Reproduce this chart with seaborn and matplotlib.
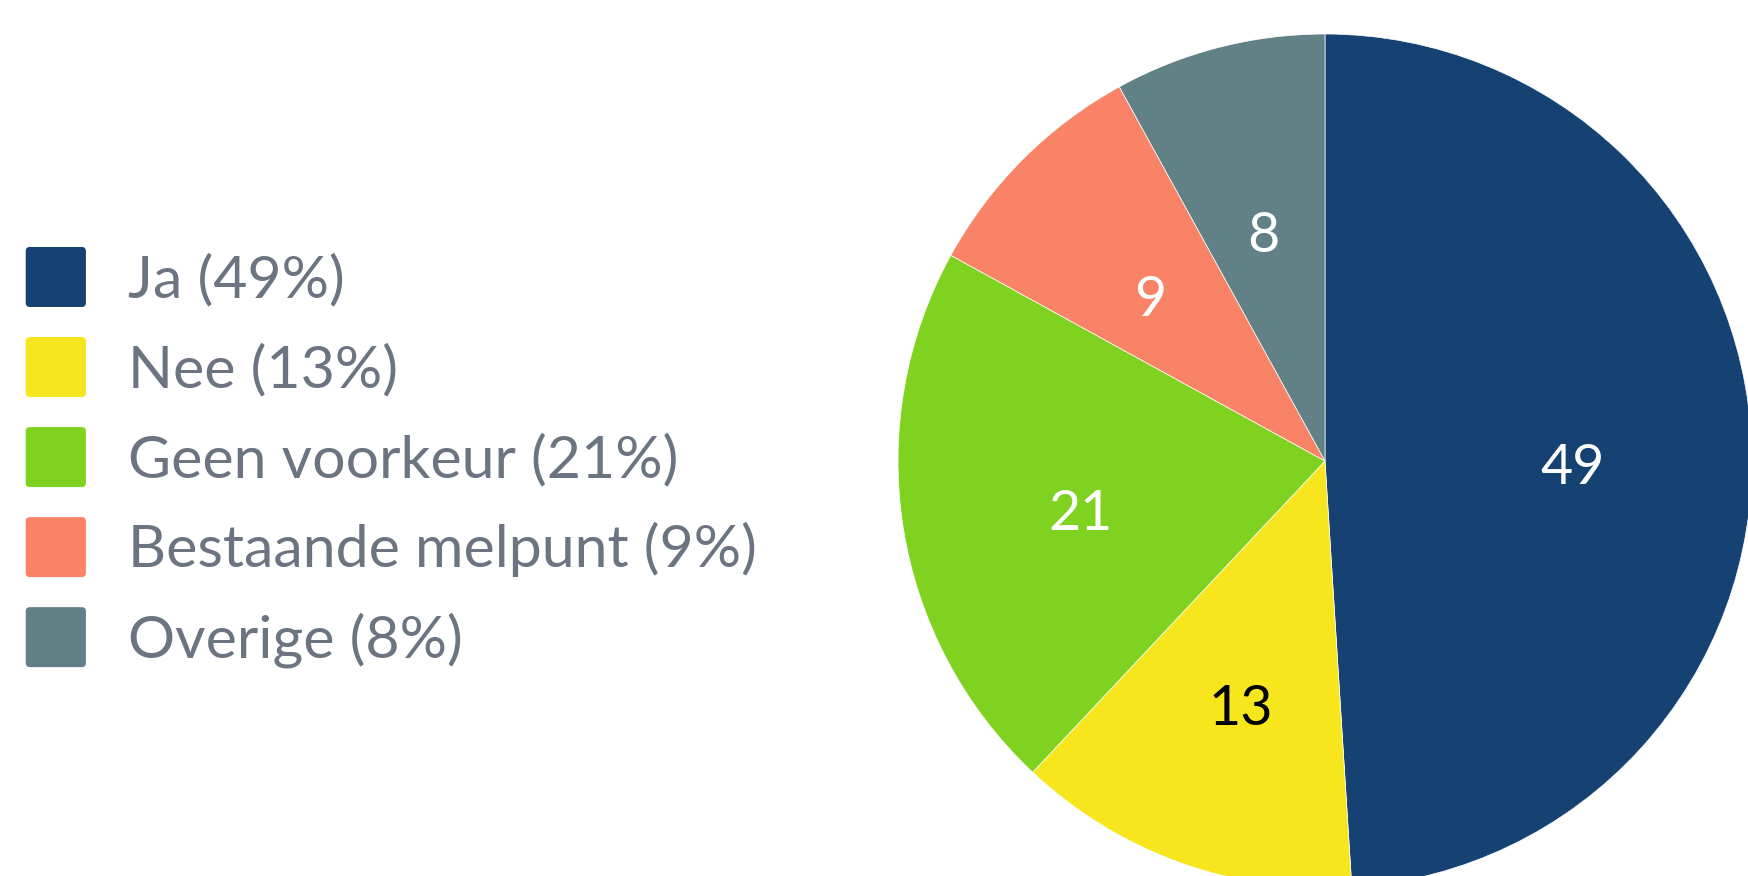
import matplotlib
matplotlib.use("Agg")
import matplotlib.pyplot as plt
import matplotlib.transforms as mtransforms
import seaborn as sns
from matplotlib.patches import FancyBboxPatch
from matplotlib.legend_handler import HandlerPatch

categories = ["Ja", "Nee", "Geen voorkeur", "Bestaande melpunt", "Overige"]
values = [49, 13, 21, 9, 8]
colors = ["#154273", "#f7e51e", "#7fd320", "#f98366", "#628186"]
label_colors = ["white", "black", "white", "white", "white"]

sns.set_theme(style="white")
plt.rcParams["font.family"] = ["Lato", "DejaVu Sans"]

W, H, DPI = 1748, 876, 100
fig = plt.figure(figsize=(W / DPI, H / DPI), dpi=DPI)

# pie placement (pixels): centre and radius
cx, cy, r = 1325, 461, 427
ax = fig.add_axes([(cx - r) / W, (H - cy - r) / H, 2 * r / W, 2 * r / H])

palette = sns.color_palette(colors)
total = sum(values)
wedges, texts = ax.pie(
    values,
    colors=palette,
    startangle=90,
    counterclock=False,
    labels=[str(v) for v in values],
    labeldistance=0.58,
    wedgeprops=dict(edgecolor="white", linewidth=0.5),
    textprops=dict(fontsize=40),
)
shift = mtransforms.ScaledTranslation(0, -15 / DPI, fig.dpi_scale_trans)
for t, c in zip(texts, label_colors):
    t.set_color(c)
    t.set_ha("center")
    t.set_va("center")
    t.set_transform(t.get_transform() + shift)
ax.set_xlim(-1, 1)
ax.set_ylim(-1, 1)
ax.set_aspect("equal")
ax.axis("off")


class RoundedHandler(HandlerPatch):
    # square legend key with slightly rounded corners
    def create_artists(self, legend, orig_handle, xdescent, ydescent,
                       width, height, fontsize, trans):
        side = 60 * 72 / DPI
        y0 = -ydescent + (height - side) / 2
        p = FancyBboxPatch((-xdescent, y0), width, side,
                           boxstyle="round,pad=0,rounding_size=3",
                           facecolor=orig_handle.get_facecolor(),
                           edgecolor="none", transform=trans)
        return [p]


leg_labels = [f"{c} ({round(v / total * 100)}%)" for c, v in zip(categories, values)]
leg = fig.legend(
    wedges, leg_labels,
    loc="center left",
    bbox_to_anchor=(8 / W, (H - 459) / H),
    frameon=False,
    fontsize=42.5,
    handlelength=1.02,
    handleheight=1.02,
    handletextpad=0.72,
    labelspacing=0.56,
    borderaxespad=0,
    borderpad=0.3,
    handler_map={w: RoundedHandler() for w in wedges},
)
for t in leg.get_texts():
    t.set_color("#6b7480")

fig.savefig("out.png", dpi=DPI)
